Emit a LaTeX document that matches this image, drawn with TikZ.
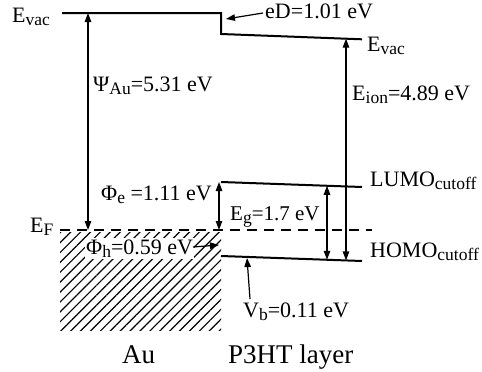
\documentclass[tikz,border=0pt]{standalone}
\usepackage{fontspec}
\setmainfont{Liberation Serif}
\usetikzlibrary{arrows.meta,patterns.meta}
\newcommand\sbx[1]{\raisebox{-0.35ex}{\fontsize{17.5}{17.5}\selectfont #1}}
\begin{document}
\begin{tikzpicture}[x=1pt,y=-1pt,
  lbl/.style={anchor=base west,inner sep=0pt,font=\fontsize{22}{25}\selectfont},
  big/.style={anchor=base west,inner sep=0pt,font=\fontsize{27}{30}\selectfont},
  level/.style={line width=2pt},
  dimarrow/.style={line width=1.2pt,{Triangle[length=9pt,width=6.5pt]}-{Triangle[length=9pt,width=6.5pt]}},
  ptr/.style={line width=1.2pt,-{Triangle[length=9pt,width=6.5pt]}}]
\useasboundingbox (0,0) rectangle (482,372);
% coordinates of levels
\coordinate (vacL) at (62,13);
\coordinate (vacM) at (221,13);
\coordinate (vacS) at (221,34);
\coordinate (vacR) at (362,39.3);
\coordinate (lumoL) at (221,182);
\coordinate (lumoR) at (362,187);
\coordinate (homoL) at (221,256);
\coordinate (homoR) at (362,261);
\coordinate (efL) at (60,230);
\coordinate (efR) at (372,230);
% hatched metal
\fill[pattern={Lines[angle=45,distance=7pt,line width=1.2pt]}] (60,232) rectangle (221,330);
% levels
\draw[level] (vacL) -- (vacM) -- (vacS) -- (vacR);
\draw[level] (lumoL) -- (lumoR);
\draw[level] (homoL) -- (homoR);
\draw[line width=1.5pt,dash pattern=on 10pt off 7pt] (efL) -- (efR);
% arrow end points
\coordinate (psiT) at (88,13);
\coordinate (psiB) at (88,230);
\coordinate (phieT) at (219,182);
\coordinate (phieB) at (219,230);
\coordinate (egT) at (327,185.8);
\coordinate (egB) at (327,259.8);
\coordinate (ionT) at (346,38.7);
\coordinate (ionB) at (346,260.4);
\coordinate (vbS) at (250,299);
\coordinate (vbE) at (247,258);
\coordinate (phihS) at (193,247);
\coordinate (phihE) at (219,245);
\coordinate (edS) at (263,13);
\coordinate (edE) at (226,19);
% labels
\node[lbl] (evacl) at (12,22) {E\sbx{vac}};
\node[lbl] (evacr) at (367,51) {E\sbx{vac}};
\node[lbl] (ed) at (265,19) {eD=1.01 eV};
\node[lbl] (psi) at (93,91) {Ψ\sbx{Au}=5.31 eV};
\node[lbl] (eion) at (352,100) {E\sbx{ion}=4.89 eV};
\node[lbl] (lumo) at (370,186) {LUMO\sbx{cutoff}};
\node[lbl] (homo) at (370,257) {HOMO\sbx{cutoff}};
\node[lbl] (phie) at (101,200) {Φ\sbx{e} =1.11 eV};
\node[lbl,font=\fontsize{21}{24}\selectfont] (eg) at (230,220) {E\sbx{g}=1.7 eV};
\node[lbl] (ef) at (30,232) {E\sbx{F}};
\node[lbl,fill=white,inner sep=1pt] (phih) at (85,254) {Φ\sbx{h}=0.59 eV};
\node[lbl] (vb) at (243,317) {V\sbx{b}=0.11 eV};
\node[big] (au) at (122,363) {Au};
\node[big] (p3ht) at (228,363) {P3HT layer};
% arrows
\draw[dimarrow] (psiT) -- (psiB);
\draw[dimarrow] (phieT) -- (phieB);
\draw[dimarrow] (egT) -- (egB);
\draw[dimarrow] (ionT) -- (ionB);
\draw[ptr] (vbS) -- (vbE);
\draw[ptr] (phihS) -- (phihE);
\draw[ptr] (edS) -- (edE);
\end{tikzpicture}
\end{document}
